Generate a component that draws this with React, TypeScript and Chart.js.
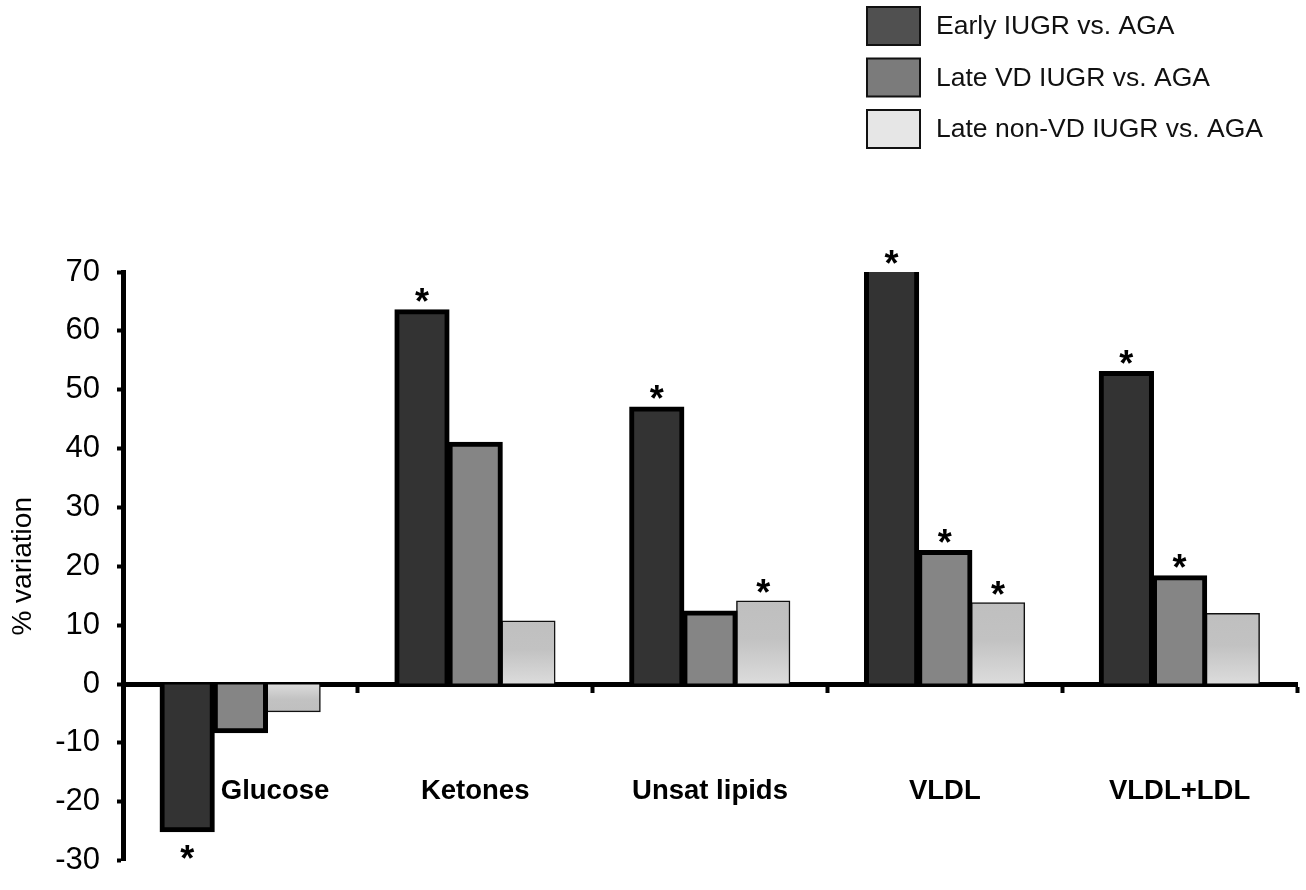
import { useEffect, useRef } from 'react';
import { Chart, registerables } from 'chart.js';

Chart.register(...registerables);

const FONT = '"Liberation Sans", Arial, Helvetica, sans-serif';

// Metabolites on the x axis
const categories = ['Glucose', 'Ketones', 'Unsat lipids', 'VLDL', 'VLDL+LDL'];

// Series names
const seriesNames = ['Early IUGR vs. AGA', 'Late VD IUGR vs. AGA', 'Late non-VD IUGR vs. AGA'];

// % variation of each group against AGA
const earlyIugr = [-25, 63.5, 47, 71, 53];
const lateVdIugr = [-8.2, 41, 12.3, 22.6, 18.3];
const lateNonVdIugr = [-4.7, 10.7, 14.1, 13.8, 12];

// Significant differences, marked with an asterisk
const earlySignificant = [true, true, true, true, true];
const lateVdSignificant = [false, false, false, true, true];
const lateNonVdSignificant = [false, false, true, true, false];

// Y axis tick values
const yTickValues = [-30, -20, -10, 0, 10, 20, 30, 40, 50, 60, 70];

const barFills = ['#333333', '#858585'];
const legendFills = ['#505050', '#7b7b7b', '#e6e6e6'];
const significance = [earlySignificant, lateVdSignificant, lateNonVdSignificant];

function lightGradient(ctx: any) {
  const chart = ctx.chart;
  const yScale = chart.scales && chart.scales.y;
  if (!yScale || ctx.type !== 'data' || typeof ctx.raw !== 'number') return '#d4d4d4';
  const yEnd = yScale.getPixelForValue(ctx.raw);
  const yBase = yScale.getPixelForValue(0);
  if (!isFinite(yEnd) || !isFinite(yBase) || yEnd === yBase) return '#d4d4d4';
  const g = chart.ctx.createLinearGradient(0, yEnd, 0, yBase);
  g.addColorStop(0, '#bfbfbf');
  g.addColorStop(0.45, '#c2c2c2');
  g.addColorStop(1, '#dcdcdc');
  return g;
}

const legendPlugin = {
  id: 'boxLegend',
  afterDraw(chart: any) {
    const ctx = chart.ctx;
    ctx.save();
    seriesNames.forEach((name, i) => {
      const x = 867;
      const y = 7 + i * 51.5;
      ctx.fillStyle = legendFills[i];
      ctx.fillRect(x, y, 53, 38);
      ctx.lineWidth = 2;
      ctx.strokeStyle = '#111';
      ctx.strokeRect(x, y, 53, 38);
      ctx.fillStyle = '#111';
      ctx.font = `26.5px ${FONT}`;
      ctx.textAlign = 'left';
      ctx.textBaseline = 'middle';
      ctx.fillText(name, 936, y + 20);
    });
    ctx.restore();
  },
};

const categoryLabelPlugin = {
  id: 'categoryLabels',
  afterDraw(chart: any) {
    const ctx = chart.ctx;
    const xScale = chart.scales.x;
    const yScale = chart.scales.y;
    const baseY = yScale.getPixelForValue(0) + 115;
    const firstMeta = chart.getDatasetMeta(0);
    ctx.save();
    ctx.fillStyle = '#000';
    ctx.font = `bold 27.5px ${FONT}`;
    ctx.textBaseline = 'alphabetic';
    categories.forEach((label, i) => {
      const bar = firstMeta.data[i];
      const barBottom = yScale.getPixelForValue(Math.min(0, earlyIugr[i]));
      if (bar && barBottom > baseY - 25) {
        // the deep negative bar would cover the label: put it beside the bar
        ctx.textAlign = 'left';
        ctx.fillText(label, bar.x + bar.width / 2 + 7, baseY);
      } else {
        ctx.textAlign = 'center';
        ctx.fillText(label, xScale.getPixelForValue(i), baseY);
      }
    });
    ctx.restore();
  },
};

const asteriskPlugin = {
  id: 'asterisks',
  afterDatasetsDraw(chart: any) {
    const ctx = chart.ctx;
    const top = chart.chartArea.top;
    ctx.save();
    ctx.fillStyle = '#000';
    ctx.font = `bold 36px ${FONT}`;
    ctx.textAlign = 'center';
    ctx.textBaseline = 'alphabetic';
    const m = ctx.measureText('*');
    const asc = m.actualBoundingBoxAscent;
    const desc = m.actualBoundingBoxDescent;
    chart.data.datasets.forEach((ds: any, di: number) => {
      const meta = chart.getDatasetMeta(di);
      meta.data.forEach((el: any, i: number) => {
        if (!significance[di][i]) return;
        const v = ds.data[i];
        const centerY = v >= 0 ? Math.max(el.y, top) - 15 : el.y + 21;
        ctx.fillText('*', el.x, centerY + (asc - desc) / 2);
      });
    });
    ctx.restore();
  },
};

export default function App() {
  const canvasRef = useRef<HTMLCanvasElement | null>(null);

  useEffect(() => {
    if (!canvasRef.current) return;
    const chart = new Chart(canvasRef.current, {
      type: 'bar',
      data: {
        labels: categories,
        datasets: [
          {
            label: seriesNames[0],
            data: earlyIugr,
            backgroundColor: barFills[0],
            borderColor: '#000',
            borderWidth: 5,
            inflateAmount: 1,
            clip: 0,
          },
          {
            label: seriesNames[1],
            data: lateVdIugr,
            backgroundColor: barFills[1],
            borderColor: '#000',
            borderWidth: 5,
            inflateAmount: 1,
            clip: 0,
          },
          {
            label: seriesNames[2],
            data: lateNonVdIugr,
            backgroundColor: lightGradient,
            borderColor: '#111',
            borderWidth: 1.5,
            inflateAmount: 0.5,
            clip: 0,
          },
        ],
      },
      options: {
        animation: false,
        responsive: true,
        maintainAspectRatio: false,
        datasets: { bar: { categoryPercentage: 0.68, barPercentage: 1 } },
        layout: { padding: { top: 272, bottom: 13, left: 0, right: 9 } },
        plugins: {
          legend: { display: false },
          tooltip: { enabled: false },
        },
        scales: {
          x: {
            type: 'category',
            position: { y: 0 },
            offset: true,
            grid: {
              display: true,
              offset: true,
              drawOnChartArea: false,
              drawTicks: true,
              tickLength: 6,
              tickWidth: 4,
              tickColor: '#000',
            },
            border: { display: true, color: '#000', width: 5 },
            ticks: { display: false },
          },
          y: {
            min: -30,
            max: 70,
            afterBuildTicks: (scale: any) => {
              scale.ticks = yTickValues.map((value) => ({ value }));
            },
            afterFit: (scale: any) => {
              scale.width = 123;
            },
            ticks: {
              color: '#000',
              padding: 17,
              font: { family: FONT, size: 31, lineHeight: 0.8 },
            },
            grid: {
              drawOnChartArea: false,
              drawTicks: true,
              tickLength: 6,
              tickWidth: 4,
              tickColor: '#000',
            },
            border: { display: true, color: '#000', width: 5 },
            title: {
              display: true,
              text: '% variation',
              color: '#000',
              font: { family: FONT, size: 28 },
              padding: { top: 6, bottom: 0 },
            },
          },
        },
      },
      plugins: [legendPlugin, categoryLabelPlugin, asteriskPlugin],
    } as any);
    return () => chart.destroy();
  }, []);

  return (
    <div style={{ position: 'fixed', left: 0, top: 0, width: 1306, height: 890, background: '#fff' }}>
      <canvas ref={canvasRef} />
    </div>
  );
}
